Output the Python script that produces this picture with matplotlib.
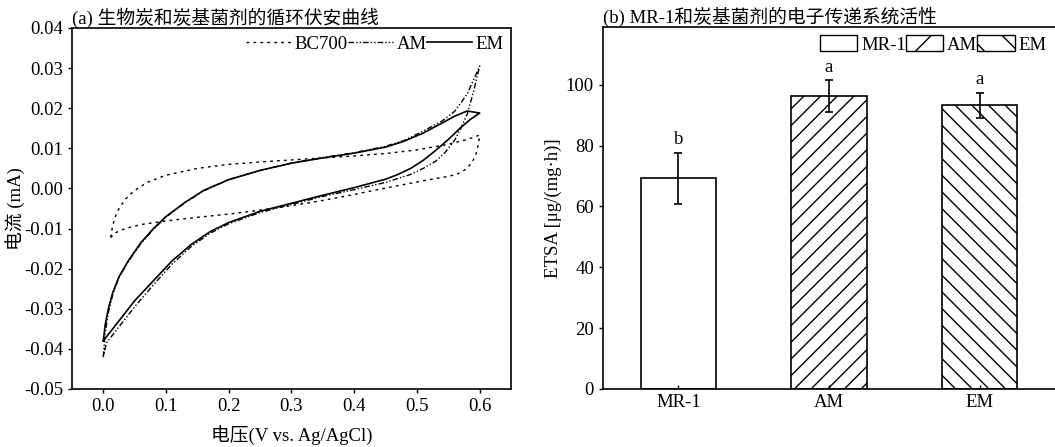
import numpy as np
import matplotlib
matplotlib.use('Agg')
import matplotlib.pyplot as plt
from matplotlib.patches import Patch

plt.rcParams['font.family'] = ['Liberation Serif', 'Noto Sans CJK SC']
plt.rcParams['axes.unicode_minus'] = False
plt.rcParams['font.size'] = 13
plt.rcParams['hatch.linewidth'] = 1.0

# (a) cyclic voltammetry loops, forward + reverse sweeps
em_v_fwd = [0.000, 0.003, 0.008, 0.015, 0.025, 0.040, 0.060, 0.080, 0.100, 0.130, 0.160, 0.200,
            0.250, 0.300, 0.350, 0.400, 0.450, 0.480, 0.510, 0.540, 0.560, 0.580, 0.600]
em_i_fwd = [-0.0380, -0.0340, -0.0300, -0.0260, -0.0220, -0.0180, -0.0135, -0.0100, -0.0070, -0.0035,
            -0.0005, 0.0022, 0.0045, 0.0063, 0.0076, 0.0088, 0.0103, 0.0118, 0.0138, 0.0163, 0.0180,
            0.0193, 0.0188]
em_v_rev = [0.600, 0.585, 0.570, 0.550, 0.530, 0.510, 0.490, 0.470, 0.450, 0.400, 0.350, 0.300,
            0.250, 0.200, 0.170, 0.140, 0.110, 0.080, 0.050, 0.025, 0.005, 0.000]
em_i_rev = [0.0188, 0.0172, 0.0152, 0.0122, 0.0095, 0.0070, 0.0050, 0.0035, 0.0023, 0.0002, -0.0017,
            -0.0037, -0.0057, -0.0085, -0.0108, -0.0140, -0.0180, -0.0230, -0.0280, -0.0330, -0.0370,
            -0.0380]

am_v_fwd = [0.000, 0.003, 0.008, 0.015, 0.025, 0.040, 0.060, 0.080, 0.100, 0.130, 0.160, 0.200,
            0.250, 0.300, 0.350, 0.400, 0.450, 0.480, 0.510, 0.540, 0.560, 0.580, 0.600]
am_i_fwd = [-0.0420, -0.0360, -0.0310, -0.0265, -0.0222, -0.0182, -0.0137, -0.0102, -0.0071, -0.0036,
            -0.0006, 0.0022, 0.0045, 0.0063, 0.0077, 0.0089, 0.0105, 0.0120, 0.0143, 0.0168, 0.0192,
            0.0235, 0.0305]
am_v_rev = [0.600, 0.590, 0.580, 0.570, 0.560, 0.545, 0.530, 0.510, 0.490, 0.470, 0.450, 0.400,
            0.350, 0.300, 0.250, 0.200, 0.170, 0.140, 0.110, 0.080, 0.050, 0.025, 0.005, 0.000]
am_i_rev = [0.0305, 0.0240, 0.0185, 0.0150, 0.0120, 0.0090, 0.0068, 0.0050, 0.0035, 0.0025, 0.0015,
            -0.0003, -0.0020, -0.0040, -0.0060, -0.0088, -0.0112, -0.0145, -0.0188, -0.0240, -0.0295,
            -0.0345, -0.0385, -0.0420]

bc_v_fwd = [0.012, 0.014, 0.018, 0.025, 0.035, 0.050, 0.070, 0.100, 0.150, 0.200, 0.250, 0.300,
            0.350, 0.400, 0.450, 0.500, 0.550, 0.580, 0.600]
bc_i_fwd = [-0.0122, -0.0100, -0.0075, -0.0050, -0.0027, -0.0005, 0.0015, 0.0033, 0.0050, 0.0060,
            0.0066, 0.0071, 0.0076, 0.0081, 0.0087, 0.0096, 0.0110, 0.0122, 0.0133]
bc_v_rev = [0.600, 0.598, 0.594, 0.588, 0.578, 0.565, 0.550, 0.520, 0.500, 0.450, 0.400, 0.350,
            0.300, 0.250, 0.200, 0.150, 0.100, 0.060, 0.035, 0.020, 0.012]
bc_i_rev = [0.0133, 0.0110, 0.0085, 0.0065, 0.0048, 0.0036, 0.0030, 0.0022, 0.0016, 0.0001, -0.0015,
            -0.0030, -0.0043, -0.0054, -0.0064, -0.0072, -0.0081, -0.0090, -0.0100, -0.0110, -0.0122]

# (b) ETSA bars
groups = ['MR-1', 'AM', 'EM']
etsa = [69.2, 96.3, 93.2]
etsa_err = [8.5, 5.2, 4.2]
sig = ['b', 'a', 'a']
hatches = ['', '//', '\\\\']

fig = plt.figure(figsize=(10.55, 4.47), dpi=100)
ax1 = fig.add_axes([0.0682, 0.1298, 0.4162, 0.8076])
ax2 = fig.add_axes([0.5716, 0.1298, 0.4284, 0.8098])

# ---- panel a ----
ax1.plot(bc_v_fwd + bc_v_rev, bc_i_fwd + bc_i_rev, color='black', lw=1.0,
         linestyle=(0, (2, 3)), label='BC700')
ax1.plot(am_v_fwd + am_v_rev, am_i_fwd + am_i_rev, color='black', lw=1.0,
         linestyle=(0, (4, 1.5, 1, 1.5, 1, 1.5)), label='AM')
ax1.plot(em_v_fwd + em_v_rev, em_i_fwd + em_i_rev, color='black', lw=1.2,
         linestyle='-', label='EM')
ax1.set_xlim(-0.05, 0.65)
ax1.set_ylim(-0.05, 0.04)
ax1.set_xticks(np.arange(0, 0.61, 0.1))
ax1.set_yticks(np.arange(-0.05, 0.041, 0.01))
ax1.xaxis.set_major_formatter(matplotlib.ticker.FormatStrFormatter('%.1f'))
ax1.yaxis.set_major_formatter(matplotlib.ticker.FormatStrFormatter('%.2f'))
ax1.tick_params(direction='out', length=3, width=1, labelsize=13.5)
ax1.set_xlabel('电压(V vs. Ag/AgCl)', fontsize=13.5, labelpad=7)
ax1.set_ylabel('电流 (mA)', fontsize=13.5, labelpad=-1)
ax1.set_title('(a) 生物炭和炭基菌剂的循环伏安曲线', loc='left', fontsize=13.5, pad=1)
ax1.legend(loc='upper right', ncol=3, frameon=False, handlelength=2.4, handletextpad=0.2,
           columnspacing=0.0, borderaxespad=0.0, fontsize=13.5)
for s in ax1.spines.values():
    s.set_linewidth(1.2)

# ---- panel b ----
x = np.arange(len(groups))
for i in range(len(groups)):
    ax2.bar(x[i], etsa[i], width=0.5, color='white', edgecolor='black', lw=1.2, hatch=hatches[i])
ax2.errorbar(x, etsa, yerr=etsa_err, fmt='none', ecolor='black', elinewidth=1.2, capsize=3, capthick=1.2)
for i in range(len(groups)):
    ax2.text(x[i], etsa[i] + etsa_err[i] + 1.5, sig[i], ha='center', va='bottom', fontsize=13.5)
ax2.set_xlim(-0.5, 2.5)
ax2.set_ylim(0, 119)
ax2.set_yticks(np.arange(0, 101, 20))
ax2.set_xticks(x)
ax2.set_xticklabels(groups)
ax2.tick_params(axis='y', direction='out', length=3, width=1, labelsize=13.5)
ax2.tick_params(axis='x', direction='in', length=3, width=1, labelsize=13.5)
ax2.set_ylabel('ETSA [μg/(mg·h)]', fontsize=13.5, labelpad=3)
ax2.set_title('(b) MR-1和炭基菌剂的电子传递系统活性', loc='left', fontsize=13.5, pad=1)
ax2.spines['right'].set_visible(False)
for s in ax2.spines.values():
    s.set_linewidth(1.2)

handles = [Patch(facecolor='white', edgecolor='black', hatch=h.replace('//', '/').replace('\\\\', '\\'), lw=1.0)
           for h in hatches]
ax2.legend(handles, groups, loc='upper right', ncol=3, frameon=False, handlelength=2.0,
           handleheight=0.9, handletextpad=0.2, columnspacing=0.0, borderaxespad=0.05, fontsize=13.5)

fig.savefig('out.png', dpi=100)
